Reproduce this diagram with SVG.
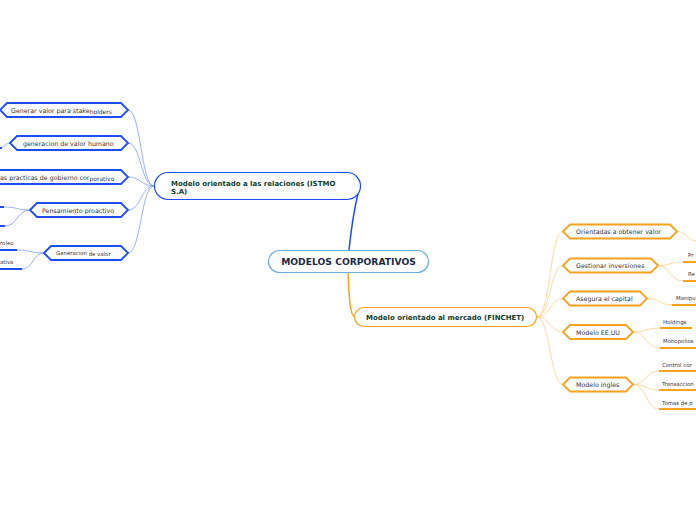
<svg xmlns="http://www.w3.org/2000/svg" width="696" height="520" viewBox="0 0 696 520">
<style>
text{font-family:"DejaVu Sans","Liberation Sans",sans-serif;}
.bh{fill:#fff;stroke:#1d4ef5;stroke-width:1.8;}
.oh{fill:#fff;stroke:#f9a21b;stroke-width:1.8;}
.ct{font-size:6.3px;fill:#333;}
.gt{font-size:5.4px;fill:#333;}
.bl{fill:none;stroke:#7f9cff;stroke-width:0.8;}
.ol{fill:none;stroke:#fdcf8a;stroke-width:0.8;}
.bu{stroke:#1d4ef5;stroke-width:2;}
.ou{stroke:#f9a21b;stroke-width:2;}
.mt{font-size:7px;font-weight:bold;fill:#0f3d2e;}
</style>
<rect width="696" height="520" fill="#fff"/>
<g id="connectors">
<path d="M349,250 C352,222 356,200 360,186" fill="none" stroke="#1d4ef5" stroke-width="1.5"/>
<path d="M348,272 C349,296 350,317 355,317" fill="none" stroke="#f9a21b" stroke-width="1.5"/>
<path class="bl" d="M128,110 C141,110 141,186 154,186"/>
<path class="bl" d="M128,143 C141,143 141,186 154,186"/>
<path class="bl" d="M128,177 C141,177 141,186 154,186"/>
<path class="bl" d="M128,210 C141,210 141,186 154,186"/>
<path class="bl" d="M128,253 C141,253 141,186 154,186"/>
<path class="bl" d="M10,143 C5,143 5,148 0,148"/>
<path class="bl" d="M30,210 C17,210 17,207 4,207"/>
<path class="bl" d="M30,210 C17,210 17,226 5,226"/>
<path class="bl" d="M44,253 C30,253 30,250 17,250"/>
<path class="bl" d="M44,253 C33,253 33,269 22,269"/>
<path class="ol" d="M537,317 C550,317 550,231.5 563,231.5"/>
<path class="ol" d="M537,317 C550,317 550,265.5 563,265.5"/>
<path class="ol" d="M537,317 C550,317 550,298.5 563,298.5"/>
<path class="ol" d="M537,317 C550,317 550,332 563,332"/>
<path class="ol" d="M537,317 C550,317 550,384.5 563,384.5"/>
<path class="ol" d="M677,231.5 C687,231.5 687,241 697,241"/>
<path class="ol" d="M658,265.5 C670,265.5 670,262 683,262"/>
<path class="ol" d="M658,265.5 C670,265.5 670,281 683,281"/>
<path class="ol" d="M647,298.5 C660,298.5 660,305 672,305"/>
<path class="ol" d="M633,332 C646,332 646,328 660,328"/>
<path class="ol" d="M633,332 C646,332 646,348 660,348"/>
<path class="ol" d="M633,384.5 C646,384.5 646,371 659,371"/>
<path class="ol" d="M633,384.5 C646,384.5 646,390 659,390"/>
<path class="ol" d="M633,384.5 C646,384.5 646,409 659,409"/>
</g>
<g id="center">
<rect x="268.5" y="250.5" width="160" height="22" rx="11" fill="#fff" stroke="#6aaee0" stroke-width="1.2"/>
<text x="348.5" y="265" text-anchor="middle" font-size="9.2" font-weight="bold" fill="#1b2a4a">MODELOS CORPORATIVOS</text>
</g>
<g id="istmo">
<rect x="154.5" y="172.5" width="206" height="27" rx="13.5" fill="#fff" stroke="#1d4ef5" stroke-width="1.2"/>
<text class="mt" x="171" y="185.5">Modelo orientado a las relaciones (ISTMO</text>
<text class="mt" x="171" y="193.5">S.A)</text>
</g>
<g id="finchet">
<rect x="354.5" y="307.5" width="182" height="19" rx="9.5" fill="#fff" stroke="#f9a21b" stroke-width="1.2"/>
<text class="mt" x="366" y="319.5">Modelo orientado al mercado (FINCHET)</text>
</g>
<g id="b1">
<path class="bh" d="M0,110 L7,103 L121,103 L128,110 L121,117 L7,117 Z"/>
<text class="ct" x="11" y="112.5">Generar valor para stake<tspan font-size="6" dy="1">holders</tspan></text>
</g>
<g id="b2">
<path class="bh" d="M10,143 L17,136 L121,136 L128,143 L121,150 L17,150 Z"/>
<text class="ct" x="23" y="145.5">generacion de valor humano</text>
</g>
<g id="b3">
<path class="bh" d="M-10,177 L-3,170 L121,170 L128,177 L121,184 L-3,184 Z"/>
<text class="ct" x="0" y="179.5">as practicas de gobierno cor<tspan font-size="6" dy="1">porativo</tspan></text>
</g>
<g id="b4">
<path class="bh" d="M30,210 L37,203 L121,203 L128,210 L121,217 L37,217 Z"/>
<text class="ct" x="42" y="212.5">Pensamiento proactivo</text>
</g>
<g id="b5">
<path class="bh" d="M44,253 L51,246 L121,246 L128,253 L121,260 L51,260 Z"/>
<text class="gt" x="56" y="254.5">Generacion <tspan dy="1">de valor</tspan></text>
</g>
<g id="b2a"><line class="bu" x1="0" y1="148" x2="2" y2="148"/></g>
<g id="b4a"><line class="bu" x1="0" y1="207" x2="4" y2="207"/></g>
<g id="b4b"><line class="bu" x1="0" y1="226" x2="5" y2="226"/></g>
<g id="b5a"><text class="gt" x="0" y="245">roleo</text><line class="bu" x1="0" y1="250" x2="17" y2="250"/></g>
<g id="b5b"><text class="gt" x="0" y="264">ativa</text><line class="bu" x1="0" y1="269" x2="22" y2="269"/></g>
<g id="o1">
<path class="oh" d="M563,231.5 L570,224.5 L670,224.5 L677,231.5 L670,238.5 L570,238.5 Z"/>
<text class="ct" x="576" y="234">Orientadas a obtener valor</text>
</g>
<g id="o2">
<path class="oh" d="M563,265.5 L570,258.5 L651,258.5 L658,265.5 L651,272.5 L570,272.5 Z"/>
<text class="ct" x="576" y="268">Gestionar inversiones</text>
</g>
<g id="o3">
<path class="oh" d="M563,298.5 L570,291.5 L640,291.5 L647,298.5 L640,305.5 L570,305.5 Z"/>
<text class="ct" x="576" y="301">Asegura el capital</text>
</g>
<g id="o4">
<path class="oh" d="M563,332 L570,325 L626,325 L633,332 L626,339 L570,339 Z"/>
<text class="ct" x="576" y="334.5">Modelo EE.UU</text>
</g>
<g id="o5">
<path class="oh" d="M563,384.5 L570,377.5 L626,377.5 L633,384.5 L626,391.5 L570,391.5 Z"/>
<text class="ct" x="576" y="387">Modelo ingles</text>
</g>
<g id="o2a"><text class="gt" x="688" y="257">Pr</text><line class="ou" x1="683" y1="262" x2="696" y2="262"/></g>
<g id="o2b"><text class="gt" x="688" y="276">Re</text><line class="ou" x1="683" y1="281" x2="696" y2="281"/></g>
<g id="o3a"><text class="gt" x="676" y="300">Manipu</text><line class="ou" x1="672" y1="305" x2="696" y2="305"/></g>
<g id="o4a"><text class="gt" x="663" y="323.5">Holdings</text><line class="ou" x1="660" y1="328" x2="692" y2="328"/></g>
<g id="o4b"><text class="gt" x="663" y="343">Monopolios</text><line class="ou" x1="660" y1="348" x2="696" y2="348"/></g>
<g id="o5a"><text class="gt" x="662" y="366.5">Control cor</text><line class="ou" x1="659" y1="371" x2="696" y2="371"/></g>
<g id="o5b"><text class="gt" x="662" y="385.5">Transaccion</text><line class="ou" x1="659" y1="390" x2="696" y2="390"/></g>
<g id="o5c"><text class="gt" x="662" y="404.5">Tomas de p</text><line class="ou" x1="659" y1="409" x2="696" y2="409"/></g>
</svg>
